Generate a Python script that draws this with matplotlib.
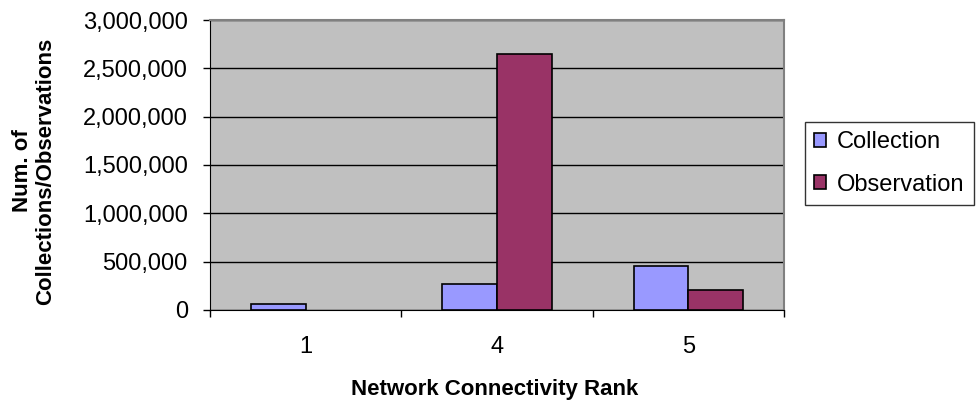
import numpy as np
import matplotlib.pyplot as plt
from matplotlib.patches import Patch
from matplotlib.ticker import FuncFormatter, FixedLocator

plt.rcParams['font.family'] = ['Liberation Sans', 'DejaVu Sans']

ranks = ['1', '4', '5']
collections = [65000, 270000, 455000]
observations = [0, 2645000, 207000]
series = ['Collection', 'Observation']
colors = ['#9999FF', '#993366']

fig = plt.figure(figsize=(9.76, 4.07), dpi=100)
ax = fig.add_axes([210 / 976, 1 - 310 / 407, 574 / 976, 290 / 407])
ax.set_facecolor('#C0C0C0')

x = np.arange(len(ranks))
w = 1 / 3.5
ax.bar(x - w / 2, collections, w, color=colors[0], edgecolor='black',
       linewidth=1.2, zorder=3)
obs_bars = ax.bar(x + w / 2, observations, w, color=colors[1],
                  edgecolor='black', linewidth=1.2, zorder=3)
# an empty bar should not leave an outline on the axis
for b, v in zip(obs_bars, observations):
    if v == 0:
        b.set_linewidth(0)

ax.set_xlim(-0.5, len(ranks) - 0.5)
ax.set_ylim(0, 3000000)
ax.set_yticks(np.arange(0, 3000001, 500000))
ax.yaxis.set_major_formatter(FuncFormatter(lambda v, p: f'{int(v):,}'))
ax.grid(axis='y', color='black', linewidth=1, zorder=0)

# category labels in the middle, tick marks between categories
ax.set_xticks(x)
ax.set_xticklabels(ranks)
ax.xaxis.set_minor_locator(FixedLocator(np.arange(-0.5, len(ranks), 1)))
ax.tick_params(axis='x', which='major', length=0, labelsize=17, pad=19)
ax.tick_params(axis='x', which='minor', length=5, width=1, direction='out')
ax.tick_params(axis='y', length=5, width=1, direction='out', labelsize=17,
               pad=11)

for side in ['top', 'right']:
    ax.spines[side].set_color('#808080')
    ax.spines[side].set_linewidth(1.5)
ax.spines['left'].set_color('black')
ax.spines['bottom'].set_color('black')

fig.text(34 / 976, 1 - 171 / 407, 'Num. of\nCollections/Observations',
         rotation=90, ha='center', va='center', fontsize=16,
         fontweight='bold', linespacing=1.15)
fig.text(495 / 976, 1 - 390 / 407, 'Network Connectivity Rank',
         ha='center', va='center', fontsize=16, fontweight='bold')

handles = [Patch(facecolor=c, edgecolor='black', linewidth=1.2, label=s)
           for c, s in zip(colors, series)]
leg = fig.legend(handles=handles, loc='upper left',
                 bbox_to_anchor=(805 / 976, 1 - 122 / 407),
                 fontsize=17, frameon=True, fancybox=False, edgecolor='black',
                 handlelength=0.5, handleheight=0.5, handletextpad=0.45,
                 borderpad=0.4, labelspacing=0.85, borderaxespad=0)
leg.get_frame().set_linewidth(1)

fig.savefig('out.png', dpi=100)
